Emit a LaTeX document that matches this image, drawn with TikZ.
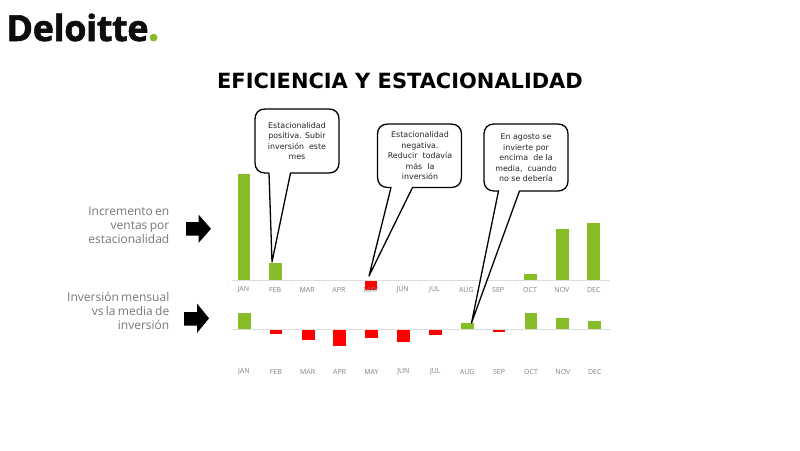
\documentclass[tikz,border=0pt]{standalone}
\usepackage{fontspec}
\setmainfont{DejaVu Sans}
\newfontfamily\opensans{Open Sans}[WordSpace=0.75]
\newfontfamily\logofont{Open Sans Bold}[FakeBold=1.6,LetterSpace=-1.0]
\definecolor{dgreen}{HTML}{86BC25}
\definecolor{dbar}{HTML}{86BC25}
\definecolor{dred}{HTML}{FF0000}
\definecolor{axisgrey}{HTML}{DDDDDD}
\definecolor{tickgrey}{HTML}{EDEDED}
\definecolor{labgrey}{HTML}{7F7F7F}
\definecolor{sidegrey}{HTML}{777777}
\tikzset{
 px/.style={x=1pt,y=-1pt},
 gbar/.style={fill=dbar,draw=none},
 rbar/.style={fill=dred,draw=none},
 axisline/.style={draw=axisgrey,line width=0.7pt},
 month/.style={font=\opensans\fontsize{7}{8}\selectfont,text=labgrey,inner sep=0pt,anchor=center},
 sidelabel/.style={font=\opensans\fontsize{12}{13.8}\selectfont,text=sidegrey,align=right,anchor=east,inner sep=0pt},
 callout/.style={draw=black,fill=white,line width=1.3pt,line join=round},
 callouttext/.style={font=\fontsize{7.9}{10.5}\selectfont,text=black!85,align=center,inner sep=0pt,anchor=center},
 blockarrow/.style={fill=black,draw=none},
}
\begin{document}
\begin{tikzpicture}[px]
\useasboundingbox (0,0) rectangle (800,450);
% logo
\node[anchor=base west,inner sep=0pt,font=\logofont\fontsize{36}{36}\selectfont,text=black!95] (logo) at (6.2,41) {Deloitte};
\fill[dgreen] (153.6,37.6) circle (3.9);
% title
\node[font=\bfseries\fontsize{20.95}{24}\selectfont,text=black,inner sep=0pt] (title) at (400,81) {EFICIENCIA Y ESTACIONALIDAD};
% axes
\draw[axisline] (232,280.5) -- (610,280.5);
\draw[axisline] (232,329.5) -- (611,329.5);
\foreach \x in {0,...,12}{
  \draw[tickgrey,line width=0.4pt] (227.6+31.9*\x,280.5) -- ++(0,2);
}
% top bars
\fill[gbar] (237.5,174) rectangle (250,280);
\fill[gbar] (269,263) rectangle (282,280);
\fill[rbar] (364.5,280.5) rectangle (377,290);
\fill[gbar] (524,274) rectangle (536.5,280);
\fill[gbar] (555.5,229) rectangle (568.5,280);
\fill[gbar] (587,222.5) rectangle (600,280);
% bottom bars
\fill[gbar] (237.5,312.5) rectangle (250.5,329);
\fill[rbar] (269.5,330) rectangle (282,334);
\fill[rbar] (301.5,330) rectangle (314.5,340);
\fill[rbar] (333,330) rectangle (346,345.5);
\fill[rbar] (365,330) rectangle (377.5,338);
\fill[rbar] (397,330) rectangle (409.5,341.5);
\fill[rbar] (429,330) rectangle (441.5,335);
\fill[gbar] (461,322.5) rectangle (473.5,329);
\fill[rbar] (492.5,330) rectangle (505,332);
\fill[gbar] (524.5,313) rectangle (537,329);
\fill[gbar] (556,317.5) rectangle (569,329);
\fill[gbar] (588,320.5) rectangle (600.5,329);
% month labels
\foreach \m [count=\i from 0] in {JAN,FEB,MAR,APR,MAY,JUN,JUL,AUG,SEP,OCT,NOV,DEC}{
  \node[month] (top\m) at (243.4+31.85*\i,289.5) {\m};
  \node[month] (bot\m) at (243.9+31.9*\i,372) {\m};
}
% side labels
\node[sidelabel] (inc) at (169.5,225.3) {Incremento en\\ventas por\\estacionalidad};
\node[sidelabel] (inv) at (169.5,311) {Inversión mensual\\vs la media de\\inversión};
% block arrows
\fill[blockarrow] (186,222) -- (198.5,222) -- (198.5,214.5) -- (211,228.8) -- (198.5,243) -- (198.5,235.5) -- (186,235.5) -- cycle;
\fill[blockarrow] (184,312) -- (197,312) -- (197,303.5) -- (209,318.3) -- (197,333) -- (197,325.5) -- (184,325.5) -- cycle;
% callouts
\draw[callout] (269,173) -- (272,262) -- (290.5,173) -- (329,173)
  .. controls (335,173) and (339,169) .. (339,163) -- (339,119)
  .. controls (339,113) and (335,109) .. (329,109) -- (265,109)
  .. controls (259,109) and (255,113) .. (255,119) -- (255,163)
  .. controls (255,169) and (259,173) .. (265,173) -- cycle;
\node[callouttext] (c1) at (297,141.2) {Estacionalidad\\positiva. Subir\\inversión \ este\\mes};
\draw[callout] (391,187.5) -- (369,276) -- (412.5,187.5) -- (451,187.5)
  .. controls (457.5,187.5) and (461.5,183.5) .. (461.5,177) -- (461.5,134)
  .. controls (461.5,128) and (457.5,124) .. (451,124) -- (388,124)
  .. controls (381.5,124) and (377.5,128) .. (377.5,134) -- (377.5,177)
  .. controls (377.5,183.5) and (381.5,187.5) .. (388,187.5) -- cycle;
\node[callouttext] (c2) at (420,155.8) {Estacionalidad\\negativa.\\Reducir \ todavía\\más \ la\\inversión};
\draw[callout] (498.5,191) -- (471.5,323) -- (519.5,191) -- (558,191)
  .. controls (564,191) and (568,187) .. (568,181) -- (568,134)
  .. controls (568,128) and (564,124) .. (558,124) -- (494,124)
  .. controls (488,124) and (484,128) .. (484,134) -- (484,181)
  .. controls (484,187) and (488,191) .. (494,191) -- cycle;
\node[callouttext] (c3) at (526,158) {En agosto se\\invierte por\\encima \ de la\\media, \ cuando\\no se debería};
\end{tikzpicture}
\end{document}
